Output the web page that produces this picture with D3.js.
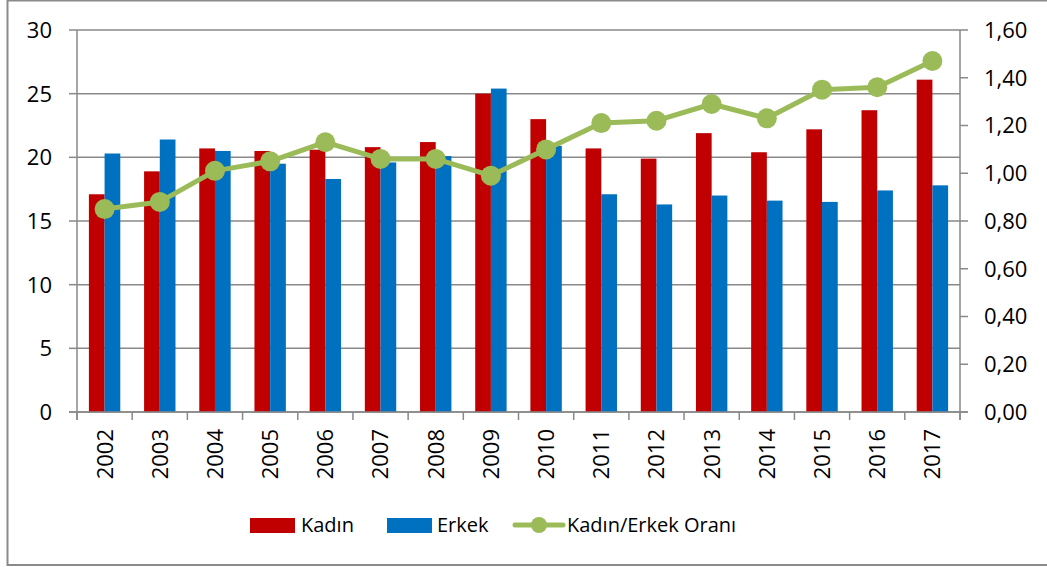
<!DOCTYPE html>
<html>
<head>
<meta charset="utf-8">
<script src="https://cdn.jsdelivr.net/npm/d3@7/dist/d3.min.js"></script>
<style>
  html, body { margin: 0; padding: 0; background: #fff; }
  svg { display: block; font-family: "Open Sans", "Noto Sans", sans-serif; }
</style>
</head>
<body>
<svg id="chart" width="1047" height="567"></svg>
<script>
const years = ["2002","2003","2004","2005","2006","2007","2008","2009","2010","2011","2012","2013","2014","2015","2016","2017"];
const kadin = [17.1,18.9,20.7,20.5,20.6,20.8,21.2,25.0,23.0,20.7,19.9,21.9,20.4,22.2,23.7,26.1];
const erkek = [20.3,21.4,20.5,19.5,18.3,19.6,20.1,25.4,20.9,17.1,16.3,17.0,16.6,16.5,17.4,17.8];
const oran  = [0.85,0.88,1.01,1.05,1.13,1.06,1.06,0.99,1.10,1.21,1.22,1.29,1.23,1.35,1.36,1.47];
const leftTicks = [0,5,10,15,20,25,30];
const rightTicks = [0,0.2,0.4,0.6,0.8,1.0,1.2,1.4,1.6];
const seriesNames = ["Kadın","Erkek","Kadın/Erkek Oranı"];
const colors = {"Kadın":"#C00000","Erkek":"#0070C0","Kadın/Erkek Oranı":"#9BBB59"};

const svg = d3.select("#chart");
const L = 77, R = 960, T = 30, B = 412;
const axisColor = "#898989";
const fontSize = 22;

// outer border
svg.append("rect").attr("x",7.5).attr("y",0.5).attr("width",1100).attr("height",564.5)
  .attr("fill","#fff").attr("stroke","#8a8a8a").attr("stroke-width",2);

const x = d3.scaleBand().domain(years).range([L,R]).padding(0);
const bw = 15.7;
const x1 = d3.scaleBand().domain(["Kadın","Erkek"]).range([-bw, bw]).padding(0);
const yL = d3.scaleLinear().domain([0,30]).range([B,T]);
const yR = d3.scaleLinear().domain([0,1.6]).range([B,T]);

// gridlines
svg.append("g").selectAll("line").data(leftTicks).join("line")
  .attr("x1",L).attr("x2",R).attr("y1",d=>yL(d)).attr("y2",d=>yL(d))
  .attr("stroke",axisColor).attr("stroke-width",1.5);

// bars
const data = years.map((y,i)=>({year:y, "Kadın":kadin[i], "Erkek":erkek[i], oran:oran[i]}));
const gBars = svg.append("g");
["Kadın","Erkek"].forEach(s=>{
  gBars.selectAll("rect."+(s==="Kadın"?"k":"e")).data(data).join("rect")
    .attr("class", s==="Kadın"?"k":"e")
    .attr("x", d=>x(d.year)+x.bandwidth()/2 + x1(s))
    .attr("width", x1.bandwidth())
    .attr("y", d=>yL(d[s]))
    .attr("height", d=>yL(0)-yL(d[s]))
    .attr("fill", colors[s]);
});

// axes lines
const gAx = svg.append("g").attr("stroke",axisColor).attr("stroke-width",1.5);
gAx.append("line").attr("x1",L).attr("x2",L).attr("y1",T).attr("y2",B+8);
gAx.append("line").attr("x1",R).attr("x2",R).attr("y1",T).attr("y2",B+8);
gAx.append("line").attr("x1",L-8).attr("x2",R+8).attr("y1",B).attr("y2",B);
gAx.selectAll("line.lt").data(leftTicks).join("line").attr("class","lt")
  .attr("x1",L-8).attr("x2",L).attr("y1",d=>yL(d)).attr("y2",d=>yL(d));
gAx.selectAll("line.rt").data(rightTicks).join("line").attr("class","rt")
  .attr("x1",R).attr("x2",R+8).attr("y1",d=>yR(d)).attr("y2",d=>yR(d));
const bounds = years.map(y=>x(y)).concat([R]);
gAx.selectAll("line.ct").data(bounds).join("line").attr("class","ct")
  .attr("x1",d=>d).attr("x2",d=>d).attr("y1",B).attr("y2",B+8);

// labels
svg.append("g").selectAll("text").data(leftTicks).join("text")
  .attr("x",52).attr("y",d=>yL(d)).attr("dy","0.36em")
  .attr("text-anchor","end").attr("font-size",fontSize).attr("fill","#000")
  .text(d=>d);
const fmtR = d=>d3.format(".2f")(d).replace(".",",");
svg.append("g").selectAll("text").data(rightTicks).join("text")
  .attr("x",984).attr("y",d=>yR(d)).attr("dy","0.36em")
  .attr("text-anchor","start").attr("font-size",fontSize).attr("fill","#000")
  .text(fmtR);
svg.append("g").selectAll("text").data(years).join("text")
  .attr("transform", d=>`translate(${x(d)+x.bandwidth()/2},429) rotate(-90)`)
  .attr("dy","0.36em").attr("text-anchor","end")
  .attr("font-size",fontSize).attr("fill","#000").text(d=>d);

// line
const line = d3.line().x(d=>x(d.year)+x.bandwidth()/2).y(d=>yR(d.oran));
svg.append("path").datum(data).attr("d",line).attr("fill","none")
  .attr("stroke",colors["Kadın/Erkek Oranı"]).attr("stroke-width",5).attr("stroke-linejoin","round");
svg.append("g").selectAll("circle").data(data).join("circle")
  .attr("cx",d=>x(d.year)+x.bandwidth()/2).attr("cy",d=>yR(d.oran)).attr("r",10)
  .attr("fill",colors["Kadın/Erkek Oranı"]);

// legend
const lg = svg.append("g");
const ly = 525;
lg.append("rect").attr("x",250).attr("y",518).attr("width",45).attr("height",15).attr("fill",colors["Kadın"]);
lg.append("text").attr("x",301).attr("y",ly).attr("dy","0.36em").attr("font-size",20).text(seriesNames[0]);
lg.append("rect").attr("x",387).attr("y",518).attr("width",45).attr("height",15).attr("fill",colors["Erkek"]);
lg.append("text").attr("x",437).attr("y",ly).attr("dy","0.36em").attr("font-size",20).text(seriesNames[1]);
lg.append("line").attr("x1",515).attr("x2",563).attr("y1",ly).attr("y2",ly)
  .attr("stroke",colors["Kadın/Erkek Oranı"]).attr("stroke-width",5).attr("stroke-linecap","round");
lg.append("circle").attr("cx",539).attr("cy",ly).attr("r",8).attr("fill",colors["Kadın/Erkek Oranı"]);
lg.append("text").attr("x",567).attr("y",ly).attr("dy","0.36em").attr("font-size",20).text(seriesNames[2]);
</script>
</body>
</html>
